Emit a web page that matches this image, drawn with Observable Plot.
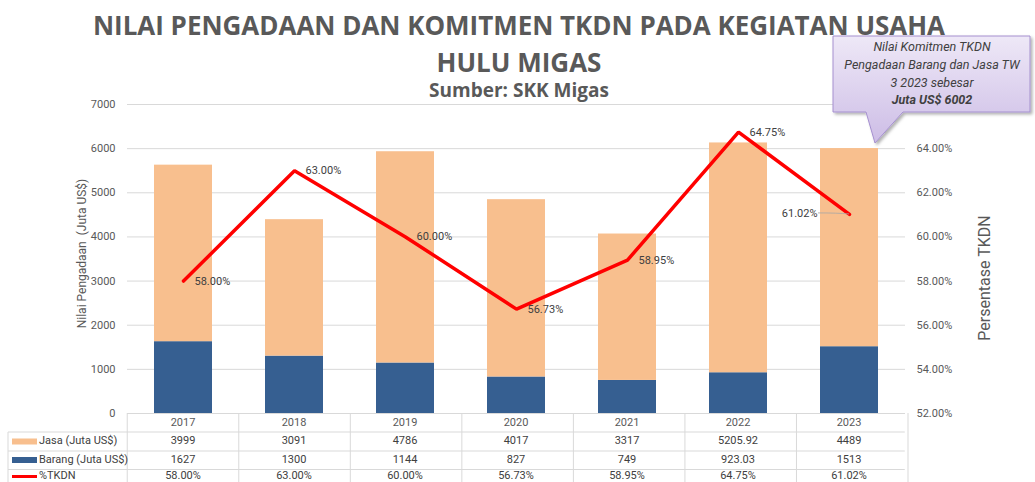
<!DOCTYPE html>
<html>
<head>
<meta charset="utf-8">
<script src="https://cdn.jsdelivr.net/npm/d3@7"></script>
<script src="https://cdn.jsdelivr.net/npm/@observablehq/plot@0.6"></script>
<style>
  body { margin: 0; background: #fff; }
  #chart { width: 1035px; height: 482px; overflow: hidden; }
</style>
</head>
<body>
<div id="chart"></div>
<script>
// ---- data ----
const years = ["2017", "2018", "2019", "2020", "2021", "2022", "2023"];
const jasa = [3999, 3091, 4786, 4017, 3317, 5205.92, 4489];
const barang = [1627, 1300, 1144, 827, 749, 923.03, 1513];
const tkdn = [58.00, 63.00, 60.00, 56.73, 58.95, 64.75, 61.02];
const jasaText = ["3999", "3091", "4786", "4017", "3317", "5205.92", "4489"];
const barangText = ["1627", "1300", "1144", "827", "749", "923.03", "1513"];
const leftTicks = [0, 1000, 2000, 3000, 4000, 5000, 6000, 7000];
const rightTicks = [52, 54, 56, 58, 60, 62, 64];
const seriesNames = ["Jasa (Juta US$)", "Barang (Juta US$)", "%TKDN"];
const titleLines = ["NILAI PENGADAAN DAN KOMITMEN TKDN PADA KEGIATAN USAHA", "HULU MIGAS"];
const subtitle = "Sumber: SKK Migas";
const calloutLines = ["Nilai Komitmen TKDN", "Pengadaan Barang dan Jasa TW", "3 2023 sebesar", "Juta US$ 6002"];

const pctMin = 52, pctMax = 66, yMax = 7000;
const toY = p => (p - pctMin) / (pctMax - pctMin) * yMax;
const fromY = v => pctMin + v / yMax * (pctMax - pctMin);

const barRows = years.flatMap((y, i) => [
  {year: y, series: "Barang", value: barang[i]},
  {year: y, series: "Jasa", value: jasa[i]}
]);
const lineRows = years.map((y, i) => ({year: y, p: tkdn[i]}));

const colJasa = "#F8BF8E", colBarang = "#365F91", colLine = "#FF0000";
const grid = "#D9D9D9";

const plot = Plot.plot({
  width: 1035,
  height: 482,
  marginTop: 104,
  marginBottom: 69,
  marginLeft: 127,
  marginRight: 130,
  style: {fontFamily: "Roboto, sans-serif", fontSize: "11px", color: "#595959", background: "#fff", overflow: "visible"},
  x: {domain: years, paddingInner: 0.48, paddingOuter: 0.24, axis: null},
  y: {domain: [0, yMax], axis: null},
  color: {domain: ["Jasa", "Barang"], range: [colJasa, colBarang]},
  marks: [
    Plot.gridY(leftTicks.filter(v => v > 0), {stroke: grid, strokeOpacity: 1}),
    Plot.barY(barRows, {x: "year", y: "value", fill: "series", order: ["Barang", "Jasa"]}),
    Plot.ruleY([0], {stroke: grid}),
    Plot.axisY({anchor: "left", ticks: leftTicks, tickSize: 0, tickPadding: 12, tickFormat: d3.format("d"), label: null}),
    Plot.axisY(rightTicks.map(toY), {anchor: "right", tickSize: 0, tickPadding: 11, tickFormat: v => fromY(v).toFixed(2) + "%", label: null}),
    Plot.line(lineRows, {x: "year", y: d => toY(d.p), stroke: colLine, strokeWidth: 3.5, strokeLinejoin: "miter"}),
    Plot.text(lineRows.filter(d => d.year !== "2023"), {x: "year", y: d => toY(d.p), text: d => d.p.toFixed(2) + "%", dx: 11, textAnchor: "start", fill: "#404040"}),
    Plot.text(lineRows.filter(d => d.year === "2023"), {x: "year", y: d => toY(d.p), text: d => d.p.toFixed(2) + "%", dx: -32, dy: -1, textAnchor: "end", fill: "#404040"})
  ]
});

document.getElementById("chart").appendChild(plot);

const svg = d3.select(plot);
const xs = plot.scale("x");
const ys = plot.scale("y");
const bw = xs.bandwidth;
const step = bw / (1 - 0.48);
const cx = y => xs.apply(y) + bw / 2;
const left0 = cx(years[0]) - step / 2;
const right0 = cx(years[years.length - 1]) + step / 2;
const base = ys.apply(0);

// leader line for 2023 label
{
  const last = lineRows[lineRows.length - 1];
  const px = cx(last.year), py = ys.apply(toY(last.p));
  svg.append("path")
    .attr("d", `M${px - 31},${py - 1} Q${px - 12},${py - 1} ${px},${py}`)
    .attr("fill", "none").attr("stroke", "#A6A6A6").attr("stroke-width", 0.8);
}

// axis titles
svg.append("text")
  .attr("transform", `translate(83,${(ys.apply(0) + ys.apply(yMax)) / 2 - 5}) rotate(-90)`)
  .attr("text-anchor", "middle").attr("dominant-baseline", "middle")
  .attr("fill", "#595959").attr("font-size", 12)
  .text("Nilai Pengadaan  (Juta US$)");
svg.append("text")
  .attr("transform", `translate(986,278) rotate(-90)`)
  .attr("text-anchor", "middle").attr("dominant-baseline", "middle")
  .attr("fill", "#595959").attr("font-size", 16)
  .text("Persentase TKDN");

// ---- data table ----
const rowBounds = [base, base + 19, base + 38, base + 56.5];
const rowMids = [base + 10, base + 28.5, base + 47, base + 63.5];
const tbl = svg.append("g");
[1, 2, 3].forEach(k => {
  tbl.append("line").attr("x1", 8).attr("x2", right0).attr("y1", rowBounds[k]).attr("y2", rowBounds[k])
    .attr("stroke", grid).attr("stroke-width", 1);
});
for (let k = 0; k <= years.length; k++) {
  const x = left0 + k * step;
  tbl.append("line").attr("x1", x).attr("x2", x).attr("y1", base).attr("y2", 482)
    .attr("stroke", grid).attr("stroke-width", 1);
}
tbl.append("line").attr("x1", 8).attr("x2", 8).attr("y1", rowBounds[1]).attr("y2", 482)
  .attr("stroke", grid).attr("stroke-width", 1);

const rowsText = [years, jasaText, barangText, tkdn.map(v => v.toFixed(2) + "%")];
rowsText.forEach((arr, r) => {
  arr.forEach((t, i) => {
    tbl.append("text").attr("x", cx(years[i])).attr("y", rowMids[r])
      .attr("text-anchor", "middle").attr("dominant-baseline", "middle")
      .attr("fill", r === 0 ? "#595959" : "#404040").attr("font-size", 11).text(t);
  });
});
const legColors = [colJasa, colBarang, colLine];
seriesNames.forEach((name, k) => {
  const yMid = rowMids[k + 1];
  if (k < 2) {
    tbl.append("rect").attr("x", 12).attr("y", yMid - 3).attr("width", 25).attr("height", 6).attr("fill", legColors[k]);
  } else {
    tbl.append("line").attr("x1", 12).attr("x2", 37).attr("y1", yMid).attr("y2", yMid)
      .attr("stroke", colLine).attr("stroke-width", 3);
  }
  tbl.append("text").attr("x", 39).attr("y", yMid).attr("dominant-baseline", "middle")
    .attr("text-anchor", "start")
    .attr("fill", "#404040").attr("font-size", 11).text(name);
});

// ---- titles ----
const tg = svg.append("g").attr("font-family", "'Open Sans', sans-serif").attr("font-weight", "bold").attr("fill", "#595959").attr("text-anchor", "middle");
tg.append("text").attr("x", 519).attr("y", 35).attr("font-size", 27)
  .attr("textLength", 852).attr("lengthAdjust", "spacingAndGlyphs").text(titleLines[0]);
tg.append("text").attr("x", 519).attr("y", 72).attr("font-size", 26).text(titleLines[1]);
tg.append("text").attr("x", 519).attr("y", 97).attr("font-size", 19).text(subtitle);

// ---- callout ----
const defs = svg.append("defs");
const grad = defs.append("linearGradient").attr("id", "cg").attr("x1", 0).attr("y1", 0).attr("x2", 0).attr("y2", 1);
grad.append("stop").attr("offset", "0%").attr("stop-color", "#EEE8F7");
grad.append("stop").attr("offset", "100%").attr("stop-color", "#CDBDE6");
const filt = defs.append("filter").attr("id", "sh").attr("x", "-10%").attr("y", "-10%").attr("width", "130%").attr("height", "140%");
filt.append("feDropShadow").attr("dx", 2).attr("dy", 2).attr("stdDeviation", 1.5).attr("flood-color", "#000").attr("flood-opacity", 0.3);
svg.append("path")
  .attr("d", "M833,36 H1030 V112 H903 L875,143 L866,112 H833 Z")
  .attr("fill", "url(#cg)").attr("stroke", "#A590CF").attr("stroke-width", 1).attr("filter", "url(#sh)");
const cg = svg.append("g").attr("text-anchor", "middle").attr("font-style", "italic").attr("fill", "#404040").attr("font-size", 12.5);
[48, 66, 84, 101].forEach((y, i) => {
  cg.append("text").attr("x", 932).attr("y", y).attr("dominant-baseline", "middle")
    .attr("font-weight", i === 3 ? "bold" : "normal").text(calloutLines[i]);
});
</script>
</body>
</html>
